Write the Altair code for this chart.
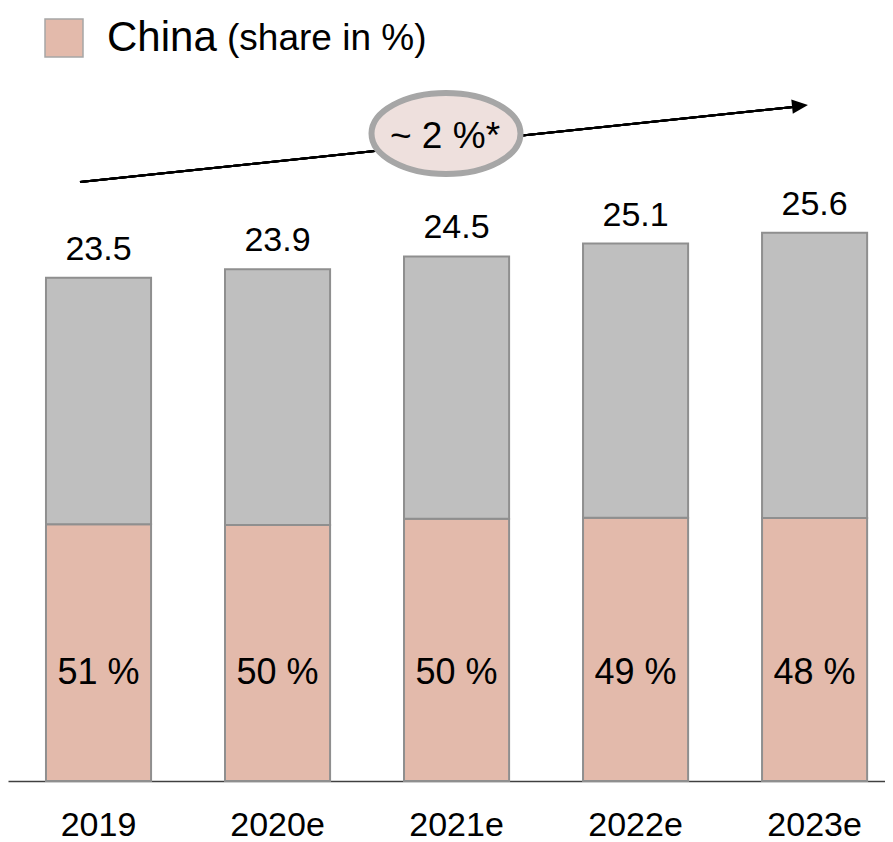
import altair as alt
import pandas as pd

# ---- data ----
years = ["2019", "2020e", "2021e", "2022e", "2023e"]
totals = [23.5, 23.9, 24.5, 25.1, 25.6]
china_share = [51, 50, 50, 49, 48]
segments = ["China", "Other"]
trend_label = "~ 2 %*"
legend_note = "(share in %)"

PINK = "#e3baab"
GRAY = "#bfbfbf"
EDGE = "#8f8f8f"
FONT = "Liberation Sans"

rows = []
for yr, tot, sh in zip(years, totals, china_share):
    c = tot * sh / 100.0
    rows.append({"year": yr, "segment": segments[0], "value": c, "ord": 0})
    rows.append({"year": yr, "segment": segments[1], "value": tot - c, "ord": 1})
bars_df = pd.DataFrame(rows)

labels_df = pd.DataFrame({
    "year": years,
    "total": totals,
    "total_txt": [f"{t:.1f}" for t in totals],
    "share_txt": [f"{s} %" for s in china_share],
})

W, H = 877, 773

xenc = alt.X(
    "year:N",
    sort=years,
    scale=alt.Scale(paddingInner=0.413, paddingOuter=0.156, align=0.68),
    axis=alt.Axis(
        title=None, ticks=False, domain=True, domainColor="#404040", domainWidth=1.5,
        labelFontSize=34, labelColor="black", labelFont=FONT, labelPadding=54,
        labelBaseline="alphabetic", labelAngle=0,
    ),
)
yscale = alt.Scale(domain=[0, 36.1], nice=False, zero=True)

bars = alt.Chart(bars_df).mark_bar(stroke=EDGE, strokeWidth=2).encode(
    x=xenc,
    y=alt.Y("value:Q", stack="zero", scale=yscale, axis=None),
    order=alt.Order("ord:Q"),
    color=alt.Color(
        "segment:N",
        scale=alt.Scale(domain=segments, range=[PINK, GRAY]),
        legend=alt.Legend(
            values=["China"], title=None, orient="none", legendX=35, legendY=9,
            symbolType="square", symbolSize=1444, symbolStrokeColor="#a6a6a6",
            symbolStrokeWidth=1.5, symbolFillColor=PINK, labelFontSize=42,
            labelFont=FONT, labelColor="black", labelOffset=22, padding=0,
            symbolOffset=0,
        ),
    ),
)

total_txt = alt.Chart(labels_df).mark_text(
    fontSize=34, font=FONT, color="black", baseline="alphabetic", dy=-18
).encode(x=alt.X("year:N", sort=years), y=alt.Y("total:Q", scale=yscale), text="total_txt:N")

share_txt = alt.Chart(labels_df).mark_text(
    fontSize=36, font=FONT, color="black", baseline="alphabetic", dy=-97
).encode(x=alt.X("year:N", sort=years), y=alt.datum(0), text="share_txt:N")

arrow_line = alt.Chart(labels_df).mark_rule(color="black", strokeWidth=2).encode(
    x=alt.value(72), y=alt.value(174), x2=alt.value(790), y2=alt.value(98.5)
)
arrow_head = alt.Chart(pd.DataFrame({"a": [0]})).mark_point(
    shape="M-1,-0.9L1,0L-1,0.9Z", size=256, filled=True, fill="black",
    opacity=1, angle=354, strokeWidth=0,
).encode(x=alt.value(792), y=alt.value(97.8))

ellipse = alt.Chart(pd.DataFrame({"a": [0]})).mark_point(
    shape="M-1,0A1,0.544,0,1,1,1,0A1,0.544,0,1,1,-1,0Z", size=149 * 149,
    filled=True, fill="#eee0dd", stroke="#a6a6a6", strokeWidth=6, opacity=1,
).encode(x=alt.value(438), y=alt.value(125.5))

ellipse_txt = alt.Chart(pd.DataFrame({"a": [0]})).mark_text(
    text=trend_label, fontSize=37, font=FONT, color="black", baseline="alphabetic", align="center"
).encode(x=alt.value(437), y=alt.value(140))

note_txt = alt.Chart(pd.DataFrame({"a": [0]})).mark_text(
    text=legend_note, fontSize=37, font=FONT, color="black", baseline="alphabetic", align="left"
).encode(x=alt.value(219), y=alt.value(42))

chart = alt.layer(
    bars, total_txt, share_txt, arrow_line, arrow_head, ellipse, ellipse_txt, note_txt
).properties(
    width=W, height=H,
    autosize=alt.AutoSizeParams(type="none"),
    padding={"left": 0, "top": 0, "right": 0, "bottom": 61},
).configure_view(stroke=None)

chart.save("out.html", embed_options={"renderer": "svg", "actions": False})
